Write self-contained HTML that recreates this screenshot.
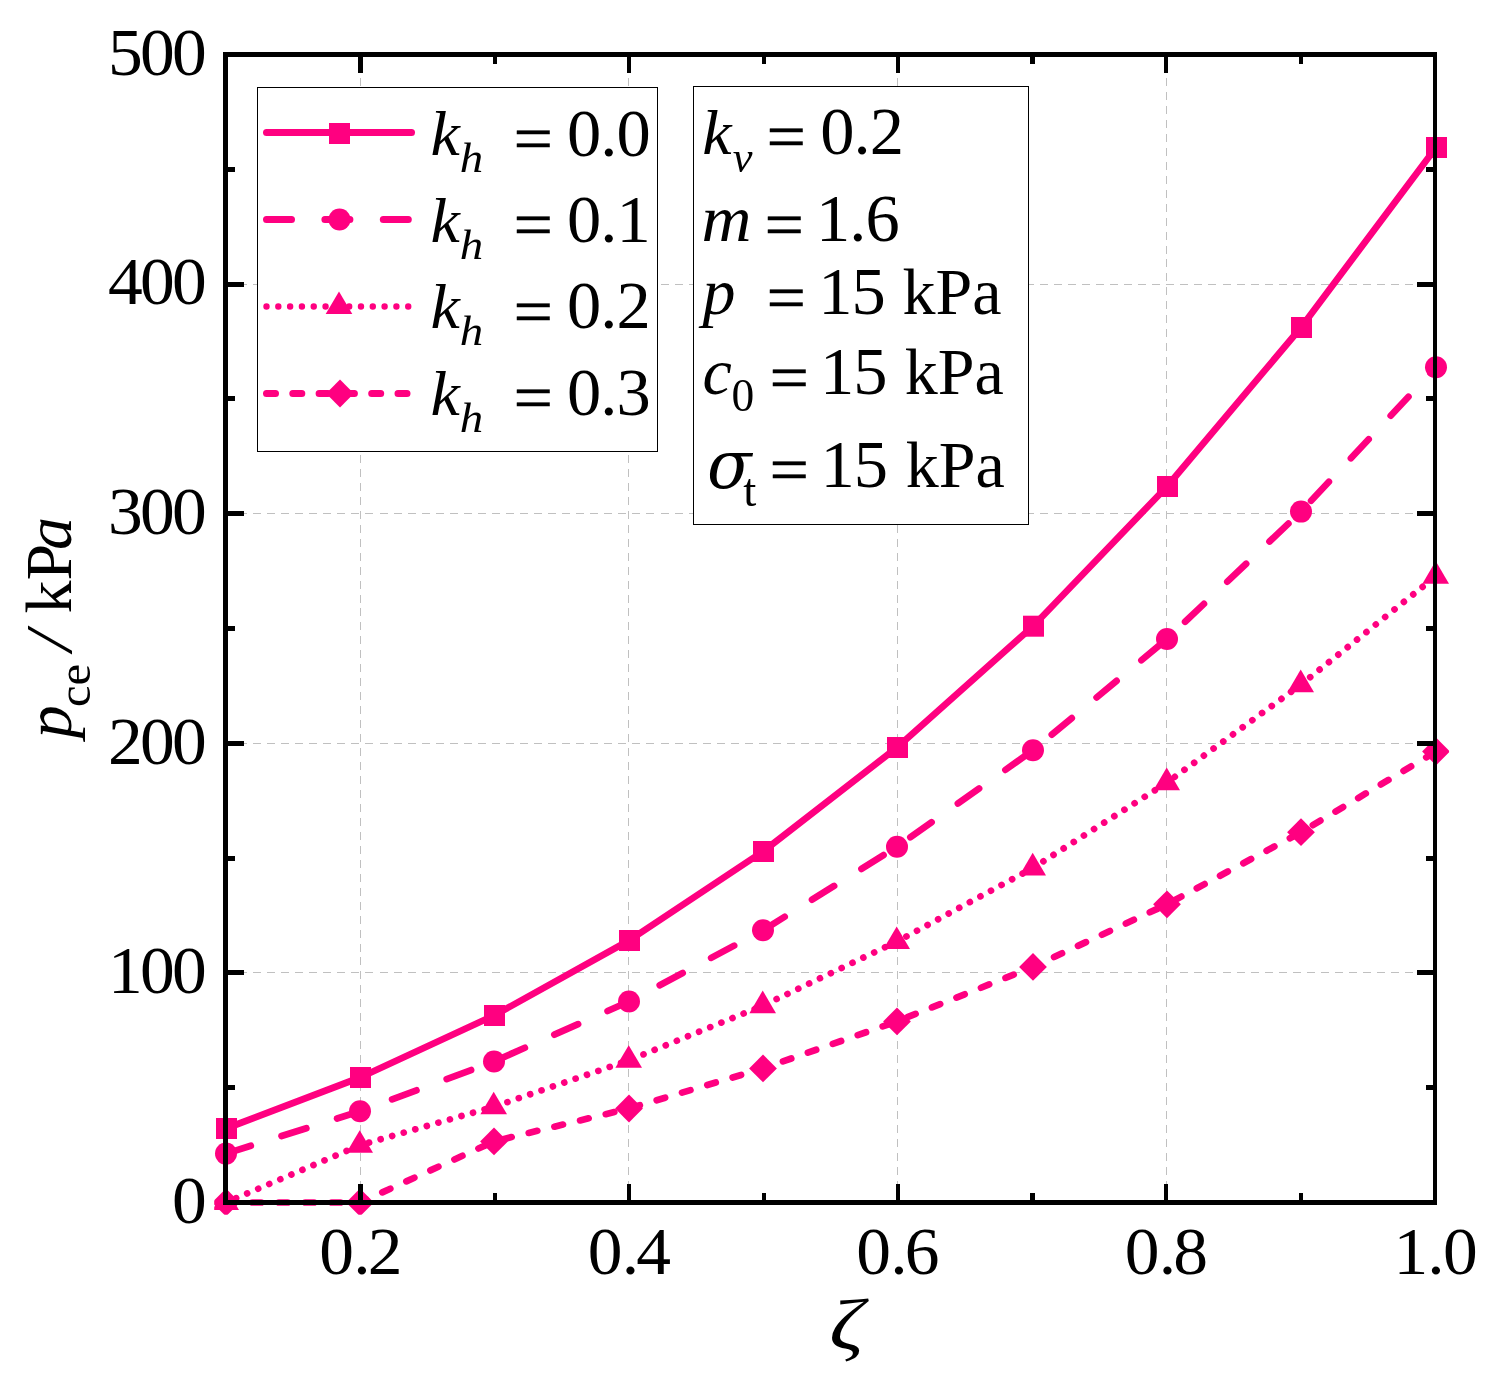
<!DOCTYPE html>
<html lang="en"><head><meta charset="utf-8"><title>p_ce versus zeta</title>
<style>html,body{margin:0;padding:0;background:#fff}body{width:1511px;height:1377px;overflow:hidden}svg{display:block}text{font-family:"Liberation Serif","DejaVu Serif",serif;fill:#000;white-space:pre}.i{font-style:italic}.ds{font-family:"DejaVu Serif","Liberation Serif",serif;font-style:italic}</style>
</head><body>
<svg width="1511" height="1377" viewBox="0 0 1511 1377" role="img" aria-label="Line chart of p_ce versus zeta for four values of k_h">
<rect x="0" y="0" width="1511" height="1377" fill="#fff"/>
<g stroke="#c0c0c0" stroke-width="1" fill="none" shape-rendering="crispEdges">
<line x1="360.5" y1="64.04" x2="360.5" y2="1200" stroke-dasharray="8 5.96"/>
<line x1="628.5" y1="64.04" x2="628.5" y2="1200" stroke-dasharray="8 5.96"/>
<line x1="897.5" y1="64.04" x2="897.5" y2="1200" stroke-dasharray="8 5.96"/>
<line x1="1166.5" y1="64.04" x2="1166.5" y2="1200" stroke-dasharray="8 5.96"/>
<line x1="239" y1="284.5" x2="1433" y2="284.5" stroke-dasharray="8 6.05"/>
<line x1="239" y1="513.5" x2="1433" y2="513.5" stroke-dasharray="8 6.05"/>
<line x1="239" y1="743.5" x2="1433" y2="743.5" stroke-dasharray="8 6.05"/>
<line x1="239" y1="972.5" x2="1433" y2="972.5" stroke-dasharray="8 6.05"/>
</g>
<clipPath id="dc"><rect x="214.2" y="40" width="1234.9" height="1174.7"/></clipPath>
<g clip-path="url(#dc)">
<g fill="none" stroke="#ff0080" stroke-linecap="round" stroke-linejoin="round">
<polyline points="226,1128.5 360,1077.5 494,1015.5 629,940.5 763,851.5 897,747.5 1033,626.2 1167,486.5 1301,327.5 1436,147.5" stroke-width="6.7"/>
<polyline points="226,1153.6 360,1111.3 494,1061.5 629,1001.5 763,930.3 897,846.7 1033,750.3 1167,639 1301,511.6 1436,367.2" stroke-width="6.7" stroke-dasharray="26 32.25"/>
<polyline points="226,1202.5 360,1145.2 494,1106.7 629,1060.3 763,1005.6 897,941.5 1033,867.9 1167,782.6 1301,684.6 1436,576.1" stroke-width="6.7" stroke-dasharray="0.01 12.005" stroke-dashoffset="1"/>
<polyline points="226,1202.5 360,1202.5 494,1141.4 629,1108.5 763,1068.4 897,1021.4 1033,966.9 1167,904.3 1301,832.2 1436,751.5" stroke-width="6.7" stroke-dasharray="8.8 17.62"/>
</g>
<g fill="#ff0080">
<rect x="216" y="1118" width="21" height="21"/>
<rect x="350" y="1067" width="21" height="21"/>
<rect x="484" y="1005" width="21" height="21"/>
<rect x="619" y="930" width="21" height="21"/>
<rect x="753" y="841" width="21" height="21"/>
<rect x="887" y="737" width="21" height="21"/>
<rect x="1023" y="615.7" width="21" height="21"/>
<rect x="1157" y="476" width="21" height="21"/>
<rect x="1291" y="317" width="21" height="21"/>
<rect x="1426" y="137" width="21" height="21"/>
<circle cx="226" cy="1153.6" r="11"/>
<circle cx="360" cy="1111.3" r="11"/>
<circle cx="494" cy="1061.5" r="11"/>
<circle cx="629" cy="1001.5" r="11"/>
<circle cx="763" cy="930.3" r="11"/>
<circle cx="897" cy="846.7" r="11"/>
<circle cx="1033" cy="750.3" r="11"/>
<circle cx="1167" cy="639" r="11"/>
<circle cx="1301" cy="511.6" r="11"/>
<circle cx="1436" cy="367.2" r="11"/>
<polygon points="225.7,1187.43 239,1210.03 212.4,1210.03"/>
<polygon points="359.7,1130.13 373,1152.73 346.4,1152.73"/>
<polygon points="493.7,1091.63 507,1114.23 480.4,1114.23"/>
<polygon points="628.7,1045.23 642,1067.83 615.4,1067.83"/>
<polygon points="762.7,990.53 776,1013.13 749.4,1013.13"/>
<polygon points="896.7,926.43 910,949.03 883.4,949.03"/>
<polygon points="1032.7,852.83 1046,875.43 1019.4,875.43"/>
<polygon points="1166.7,767.53 1180,790.13 1153.4,790.13"/>
<polygon points="1300.7,669.53 1314,692.13 1287.4,692.13"/>
<polygon points="1435.7,561.03 1449,583.63 1422.4,583.63"/>
<polygon points="226,1188.6 239.9,1202.5 226,1216.4 212.1,1202.5"/>
<polygon points="360,1188.6 373.9,1202.5 360,1216.4 346.1,1202.5"/>
<polygon points="494,1127.5 507.9,1141.4 494,1155.3 480.1,1141.4"/>
<polygon points="629,1094.6 642.9,1108.5 629,1122.4 615.1,1108.5"/>
<polygon points="763,1054.5 776.9,1068.4 763,1082.3 749.1,1068.4"/>
<polygon points="897,1007.5 910.9,1021.4 897,1035.3 883.1,1021.4"/>
<polygon points="1033,953 1046.9,966.9 1033,980.8 1019.1,966.9"/>
<polygon points="1167,890.4 1180.9,904.3 1167,918.2 1153.1,904.3"/>
<polygon points="1301,818.3 1314.9,832.2 1301,846.1 1287.1,832.2"/>
<polygon points="1436,737.6 1449.9,751.5 1436,765.4 1422.1,751.5"/>
</g>
</g>
<g fill="#000" shape-rendering="crispEdges">
<rect x="223" y="52" width="5" height="1153"/>
<rect x="1433" y="52" width="4" height="1153"/>
<rect x="223" y="52" width="1214" height="5"/>
<rect x="223" y="1200" width="1214" height="5"/>
<rect x="358" y="57" width="5" height="16"/>
<rect x="358" y="1184" width="5" height="16"/>
<rect x="493" y="57" width="4" height="7"/>
<rect x="493" y="1193" width="4" height="7"/>
<rect x="627" y="57" width="4" height="16"/>
<rect x="627" y="1184" width="4" height="16"/>
<rect x="762" y="57" width="4" height="7"/>
<rect x="762" y="1193" width="4" height="7"/>
<rect x="896" y="57" width="4" height="16"/>
<rect x="896" y="1184" width="4" height="16"/>
<rect x="1030" y="57" width="5" height="7"/>
<rect x="1030" y="1193" width="5" height="7"/>
<rect x="1164" y="57" width="4" height="16"/>
<rect x="1164" y="1184" width="4" height="16"/>
<rect x="1299" y="57" width="4" height="7"/>
<rect x="1299" y="1193" width="4" height="7"/>
<rect x="228" y="1085" width="7" height="5"/>
<rect x="1426" y="1085" width="7" height="5"/>
<rect x="228" y="970" width="16" height="5"/>
<rect x="1417" y="970" width="16" height="5"/>
<rect x="228" y="856" width="7" height="5"/>
<rect x="1426" y="856" width="7" height="5"/>
<rect x="228" y="741" width="16" height="5"/>
<rect x="1417" y="741" width="16" height="5"/>
<rect x="228" y="626" width="7" height="5"/>
<rect x="1426" y="626" width="7" height="5"/>
<rect x="228" y="511" width="16" height="5"/>
<rect x="1417" y="511" width="16" height="5"/>
<rect x="228" y="396" width="7" height="5"/>
<rect x="1426" y="396" width="7" height="5"/>
<rect x="228" y="282" width="16" height="5"/>
<rect x="1417" y="282" width="16" height="5"/>
<rect x="228" y="167" width="7" height="5"/>
<rect x="1426" y="167" width="7" height="5"/>
</g>
<g>
<text font-size="66.5" letter-spacing="-2.63" transform="translate(171.9 1222.7) scale(1.045 1.025)">0</text>
<text font-size="66.5" letter-spacing="-2.63" transform="translate(107.9 993.1) scale(1.045 1.025)">100</text>
<text font-size="66.5" letter-spacing="-2.63" transform="translate(107.9 763.5) scale(1.045 1.025)">200</text>
<text font-size="66.5" letter-spacing="-2.63" transform="translate(107.9 533.9) scale(1.045 1.025)">300</text>
<text font-size="66.5" letter-spacing="-2.63" transform="translate(107.9 304.3) scale(1.045 1.025)">400</text>
<text font-size="66.5" letter-spacing="-2.63" transform="translate(107.9 74.7) scale(1.045 1.025)">500</text>
<text font-size="66.5" transform="translate(319.25 1274.2) scale(1.045 1.025)" x="0 32.44 46.51">0.2</text>
<text font-size="66.5" transform="translate(587.75 1274.2) scale(1.045 1.025)" x="0 32.44 46.51">0.4</text>
<text font-size="66.5" transform="translate(856.25 1274.2) scale(1.045 1.025)" x="0 32.44 46.51">0.6</text>
<text font-size="66.5" transform="translate(1124.75 1274.2) scale(1.045 1.025)" x="0 32.44 46.51">0.8</text>
<text font-size="66.5" transform="translate(1393.4 1274.2) scale(1.045 1.025)" x="0 32.34 47.56">1.0</text>
</g>
<text class="i" font-size="72" transform="translate(829.23 1349.4) scale(1.192 1.000)">ζ</text>
<g transform="translate(70.8 741) rotate(-90)">
<text class="i" font-size="66" transform="translate(2.67 0) scale(1.000 0.980)">p</text>
<text font-size="46" transform="translate(33.95 19) scale(1.056 1.000)">ce</text>
<text class="i" font-size="66" transform="translate(89.65 0) scale(1.106 1.000)">/</text>
<text font-size="66" x="127.44" y="0">kP<tspan class="i" dx="-6.2">a</tspan></text>
</g>
<rect x="257.5" y="87.5" width="400" height="364" fill="#fff" stroke="#000" stroke-width="1" shape-rendering="crispEdges"/>
<g stroke="#ff0080" stroke-width="7" stroke-linecap="round" fill="none">
<line x1="266.5" y1="132.5" x2="411.5" y2="132.5"/>
<line x1="266.5" y1="219.5" x2="411.5" y2="219.5" stroke-dasharray="25 33.4"/>
<line x1="266.5" y1="306.5" x2="412.5" y2="306.5" stroke-dasharray="0.01 11.8" stroke-width="6.4"/>
<line x1="266.5" y1="393.5" x2="411.5" y2="393.5" stroke-dasharray="9 17.3"/>
</g>
<g fill="#ff0080">
<rect x="329" y="123" width="21" height="21"/>
<circle cx="339.5" cy="219.5" r="11"/>
<polygon points="339,291.43 352.3,314.03 325.7,314.03"/>
<polygon points="340,379.6 353.9,393.5 340,407.4 326.1,393.5"/>
</g>
<g>
<text class="i" font-size="66" transform="translate(430.5 155.2) scale(1.000 0.960)">k</text>
<text class="i" font-size="43" transform="translate(459.71 172.4) scale(1.090 1.000)">h</text>
<text font-size="70" transform="translate(513.51 160.76) scale(1.000 0.945)" stroke="#000" stroke-width="0.45">=</text>
<text font-size="68.5" letter-spacing="-1" transform="translate(567.09 155.6) scale(1.000 0.988)">0.0</text>
<text class="i" font-size="66" transform="translate(430.5 241.8) scale(1.000 0.960)">k</text>
<text class="i" font-size="43" transform="translate(459.71 259) scale(1.090 1.000)">h</text>
<text font-size="70" transform="translate(513.51 247.36) scale(1.000 0.945)" stroke="#000" stroke-width="0.45">=</text>
<text font-size="68.5" letter-spacing="-1" transform="translate(567.09 242.2) scale(1.000 0.988)">0.1</text>
<text class="i" font-size="66" transform="translate(430.5 328) scale(1.000 0.960)">k</text>
<text class="i" font-size="43" transform="translate(459.71 345.2) scale(1.090 1.000)">h</text>
<text font-size="70" transform="translate(513.51 333.56) scale(1.000 0.945)" stroke="#000" stroke-width="0.45">=</text>
<text font-size="68.5" letter-spacing="-1" transform="translate(567.09 328.4) scale(1.000 0.988)">0.2</text>
<text class="i" font-size="66" transform="translate(430.5 414.6) scale(1.000 0.960)">k</text>
<text class="i" font-size="43" transform="translate(459.71 431.8) scale(1.090 1.000)">h</text>
<text font-size="70" transform="translate(513.51 420.16) scale(1.000 0.945)" stroke="#000" stroke-width="0.45">=</text>
<text font-size="68.5" letter-spacing="-1" transform="translate(567.09 415) scale(1.000 0.988)">0.3</text>
</g>
<rect x="693.5" y="86.5" width="335" height="438" fill="#fff" stroke="#000" stroke-width="1" shape-rendering="crispEdges"/>
<g>
<text class="i" font-size="66" transform="translate(702.2 153.9) scale(1.000 0.960)">k</text>
<text class="i" font-size="44.5" x="732.69" y="171.9">v</text>
<text font-size="70" transform="translate(766.61 159.46) scale(1.000 0.945)" stroke="#000" stroke-width="0.45">=</text>
<text font-size="68.5" letter-spacing="-1" x="820.29" y="154.1">0.2</text>
<text class="i" font-size="66" transform="translate(701.6 241.2) scale(1.049 1.000)">m</text>
<text font-size="70" transform="translate(764.51 246.76) scale(1.000 0.945)" stroke="#000" stroke-width="0.45">=</text>
<text font-size="68.5" letter-spacing="-1" x="816.02" y="241.2">1.6</text>
<text class="i" font-size="66" x="702.47" y="314">p</text>
<text font-size="70" transform="translate(766.61 319.56) scale(1.000 0.945)" stroke="#000" stroke-width="0.45">=</text>
<text font-size="68.5" letter-spacing="-1" x="818.28" y="314">15</text>
<text font-size="66" x="902.54" y="314">kPa</text>
<text class="i" font-size="66" x="702.57" y="394.3">c</text>
<text font-size="45.5" x="731.47" y="411.3">0</text>
<text font-size="70" transform="translate(769.51 399.86) scale(1.000 0.945)" stroke="#000" stroke-width="0.45">=</text>
<text font-size="68.5" letter-spacing="-1" x="819.98" y="394.3">15</text>
<text font-size="66" x="904.74" y="394.3">kPa</text>
<text class="ds" font-size="60" transform="translate(707.03 488.16) scale(1.089 1.107)">σ</text>
<text font-size="47" x="743.34" y="505.7">t</text>
<text font-size="70" transform="translate(769.51 492.46) scale(1.000 0.945)" stroke="#000" stroke-width="0.45">=</text>
<text font-size="68.5" letter-spacing="-1" x="820.38" y="486.9">15</text>
<text font-size="66" x="905.74" y="486.9">kPa</text>
</g>
</svg>
</body></html>
